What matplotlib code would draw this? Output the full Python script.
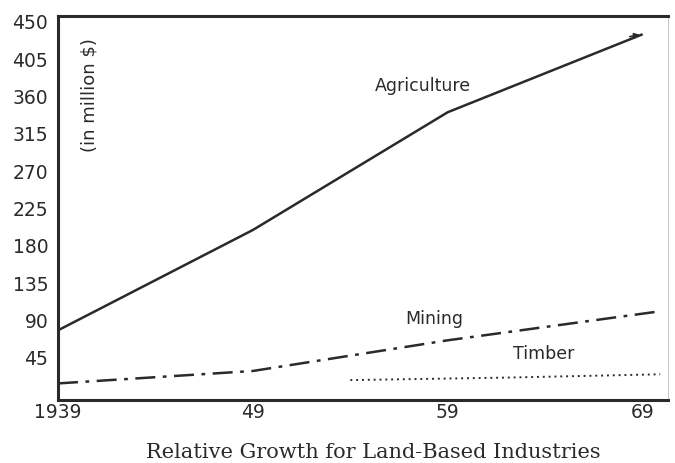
import matplotlib
matplotlib.use("Agg")
import matplotlib.pyplot as plt

years_ag = [1939, 1949, 1959, 1969]
agriculture = [78, 199, 341, 435]
years_min = [1939, 1949, 1959, 1969.9]
mining = [14, 29, 66, 101]
years_tim = [1954, 1962, 1969.9]
timber = [18, 21, 25]

yticks = [45, 90, 135, 180, 225, 270, 315, 360, 405, 450]
xticks = [1939, 1949, 1959, 1969]
xticklabels = ["1939", "49", "59", "69"]

fig = plt.figure(figsize=(6.75, 4.63), dpi=100)
ax = fig.add_axes([58/675, 1 - 400/463, (668-58)/675, (400-16)/463])
ax.set_xlim(1939, 1970.3)
ax.set_ylim(-6, 457)

ink = "#2a2a2a"
ax.plot(years_ag, agriculture, color=ink, lw=1.8, solid_capstyle="butt")
ax.annotate("", xy=(years_ag[-1], agriculture[-1]), xytext=(1968.2, agriculture[-1]-3.5),
            arrowprops=dict(arrowstyle="-|>", color=ink, lw=1.2, mutation_scale=8))
ax.plot(years_min, mining, color=ink, lw=1.8, linestyle=(0, (8, 3, 1.5, 3)))
ax.plot(years_tim, timber, color=ink, lw=1.4, linestyle=(0, (1, 2)))

ax.text(1957.7, 372, "Agriculture", fontsize=12.5, color=ink, ha="center", va="center")
ax.text(1958.3, 92, "Mining", fontsize=12.5, color=ink, ha="center", va="center")
ax.text(1963.9, 49, "Timber", fontsize=12.5, color=ink, ha="center", va="center")
ax.text(1940.6, 362, "(in million $)", fontsize=13, color=ink, rotation=90, ha="center", va="center")

ax.set_yticks(yticks)
ax.set_yticklabels([str(v) for v in yticks], fontsize=13.5, color=ink)
ax.set_xticks(xticks)
ax.set_xticklabels(xticklabels, fontsize=13.5, color=ink)
ax.tick_params(axis="y", length=0, pad=7)
ax.tick_params(axis="x", length=0, pad=2)

for s in ["left", "bottom", "top"]:
    ax.spines[s].set_linewidth(2.2)
    ax.spines[s].set_color(ink)
ax.spines["right"].set_linewidth(0.6)
ax.spines["right"].set_color("#bbbbbb")

fig.text(373/675, 1 - 452/463, "Relative Growth for Land-Based Industries",
         fontsize=15, family="DejaVu Serif", color=ink, ha="center", va="center")

fig.savefig("out.png", dpi=100, facecolor="white")
